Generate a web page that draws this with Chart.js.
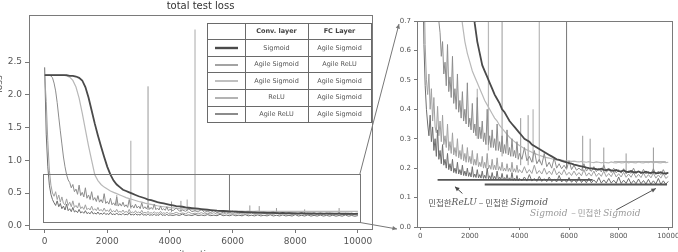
<!DOCTYPE html>
<html><head><meta charset="utf-8">
<script src="https://cdn.jsdelivr.net/npm/chart.js@4.4.1/dist/chart.umd.min.js"></script>
<style>
html,body{margin:0;padding:0;background:#fff;width:678px;height:252px;overflow:hidden;}
#c1{position:absolute;left:0;top:0;}
#c2{position:absolute;left:355px;top:0;}
</style></head><body>
<canvas id="c1" width="380" height="252" style="width:380px;height:252px"></canvas>
<canvas id="c2" width="323" height="252" style="width:323px;height:252px"></canvas>
<script>
// ---------------- DATA ----------------
// coarse iterations (smooth curves)
const iterations = [
  0,100,200,300,400,500,600,700,800,900,
  1000,1100,1200,1300,1400,1500,1600,1700,1800,1900,
  2000,2100,2200,2300,2400,2500,2600,2700,2800,2900,
  3000,3100,3200,3300,3400,3500,3600,3700,3800,3900,
  4000,4100,4200,4300,4400,4500,4600,4700,4800,4900,
  5000,5100,5200,5300,5400,5500,5600,5700,5800,5900,
  6000,6100,6200,6300,6400,6500,6600,6700,6800,6900,
  7000,7100,7200,7300,7400,7500,7600,7700,7800,7900,
  8000,8100,8200,8300,8400,8500,8600,8700,8800,8900,
  9000,9100,9200,9300,9400,9500,9600,9700,9800,9900,
  10000];

// fine iterations (noisy curves)
const iterFine = [
  0,50,100,150,200,250,300,350,400,450,
  500,550,600,650,700,750,800,850,900,950,
  1000,1050,1100,1150,1200,1250,1300,1350,1400,1450,
  1500,1550,1600,1650,1700,1750,1800,1850,1900,1950,
  2000,2050,2100,2150,2200,2250,2300,2350,2400,2450,
  2500,2550,2600,2650,2700,2750,2800,2850,2900,2950,
  3000,3050,3100,3150,3200,3250,3300,3350,3400,3450,
  3500,3550,3600,3650,3700,3750,3800,3850,3900,3950,
  4000,
  4100,4200,4300,4400,4500,4600,4700,4800,4900,5000,
  5100,5200,5300,5400,5500,5600,5700,5800,5900,6000,
  6100,6200,6300,6400,6500,6600,6700,6800,6900,7000,
  7100,7200,7300,7400,7500,7600,7700,7800,7900,8000,
  8100,8200,8300,8400,8500,8600,8700,8800,8900,9000,
  9100,9200,9300,9400,9500,9600,9700,9800,9900,10000];

// Conv: Sigmoid / FC: Agile Sigmoid   (on iterations)
const lossSigmoidAgileSigmoid = [
  2.30,2.30,2.30,2.30,2.30,2.30,2.30,2.30,2.29,2.29,
  2.28,2.26,2.22,2.12,1.96,1.76,1.56,1.38,1.21,1.05,
  0.90,0.78,0.69,0.63,0.59,0.55,0.53,0.51,0.49,0.47,
  0.45,0.435,0.42,0.40,0.39,0.375,0.36,0.35,0.34,0.33,
  0.32,0.31,0.30,0.295,0.29,0.28,0.275,0.27,0.265,0.26,
  0.255,0.25,0.245,0.24,0.235,0.23,0.228,0.225,0.222,0.22,
  0.217,0.215,0.212,0.21,0.208,0.206,0.204,0.202,0.20,0.199,
  0.198,0.197,0.195,0.198,0.194,0.193,0.196,0.192,0.191,0.194,
  0.19,0.189,0.192,0.188,0.187,0.19,0.186,0.186,0.189,0.185,
  0.185,0.188,0.184,0.184,0.186,0.183,0.183,0.186,0.182,0.182,
  0.184];

// Conv: Agile Sigmoid / FC: Agile Sigmoid   (on iterations)
const lossAgileSigmoidAgileSigmoid = [
  2.30,2.30,2.30,2.30,2.30,2.30,2.30,2.29,2.27,2.22,
  2.12,1.95,1.72,1.47,1.22,1.00,0.78,0.69,0.63,0.59,
  0.56,0.53,0.51,0.49,0.47,0.45,0.43,0.415,0.40,0.385,
  0.37,0.36,0.345,0.335,0.325,0.315,0.305,0.297,0.29,0.283,
  0.277,0.272,0.267,0.262,0.258,0.254,0.25,0.247,0.244,0.241,
  0.238,0.236,0.234,0.232,0.23,0.229,0.228,0.227,0.226,0.225,
  0.224,0.223,0.224,0.222,0.221,0.223,0.221,0.22,0.222,0.22,
  0.219,0.221,0.22,0.218,0.22,0.219,0.218,0.221,0.219,0.218,
  0.22,0.218,0.219,0.221,0.218,0.22,0.219,0.218,0.221,0.219,
  0.218,0.22,0.219,0.221,0.218,0.22,0.219,0.218,0.22,0.219,
  0.22];

// Conv: Agile Sigmoid / FC: Agile ReLU   (on iterFine)
const lossAgileSigmoidAgileReLU = [
  2.30,2.30,2.30,2.30,2.29,2.26,2.18,2.06,1.88,1.66,
  1.45,1.25,1.05,0.90,0.78,0.70,0.66,0.58,0.63,0.52,
  0.56,0.48,0.62,0.46,0.51,0.44,0.58,0.42,0.47,0.40,
  0.52,0.39,0.43,0.37,0.46,0.36,0.40,0.35,0.49,0.34,
  0.37,0.33,0.42,0.32,0.35,0.31,0.44,0.30,0.34,0.30,
  0.36,0.29,0.32,0.28,0.40,0.28,0.31,0.27,0.33,0.27,
  0.30,0.26,0.35,0.26,0.29,0.255,0.31,0.25,0.28,0.25,
  0.33,0.245,0.27,0.24,0.30,0.24,0.26,0.235,0.29,0.23,
  0.25,
  0.23,0.27,0.225,0.24,0.22,0.26,0.215,0.23,0.21,0.25,
  0.205,0.22,0.20,0.235,0.20,0.215,0.198,0.21,0.196,0.225,
  0.195,0.21,0.193,0.20,0.192,0.215,0.19,0.20,0.189,0.205,
  0.188,0.20,0.187,0.21,0.186,0.195,0.185,0.20,0.184,0.195,
  0.183,0.198,0.182,0.19,0.182,0.20,0.181,0.19,0.18,0.196,
  0.18,0.19,0.179,0.198,0.178,0.19,0.178,0.195,0.177,0.185];

// Conv: ReLU / FC: Agile Sigmoid   (on iterFine)
const lossReLUAgileSigmoid = [
  2.30,1.90,1.30,0.85,0.62,0.50,0.45,0.52,0.40,0.47,
  0.36,0.44,0.34,0.32,0.41,0.31,0.36,0.29,0.38,0.28,
  0.31,0.27,0.35,0.26,0.29,0.25,0.32,0.245,0.27,0.24,
  0.30,0.235,0.26,0.23,0.28,0.225,0.25,0.22,0.27,0.22,
  0.24,0.215,0.26,0.21,0.23,0.21,0.25,0.205,0.22,0.205,
  0.24,0.20,0.22,0.20,0.25,0.198,0.21,0.196,0.23,0.195,
  0.21,0.194,0.235,0.193,0.205,0.192,0.22,0.19,0.20,0.19,
  0.215,0.189,0.20,0.188,0.22,0.187,0.198,0.186,0.21,0.185,
  0.195,
  0.184,0.205,0.183,0.195,0.182,0.21,0.181,0.192,0.18,0.20,
  0.179,0.19,0.178,0.20,0.177,0.188,0.177,0.195,0.176,0.186,
  0.175,0.19,0.175,0.185,0.174,0.195,0.173,0.184,0.173,0.19,
  0.172,0.183,0.172,0.19,0.171,0.182,0.171,0.188,0.17,0.181,
  0.17,0.186,0.169,0.18,0.169,0.185,0.168,0.179,0.168,0.184,
  0.167,0.178,0.167,0.183,0.166,0.177,0.166,0.182,0.165,0.172];

// Conv: Agile ReLU / FC: Agile Sigmoid   (on iterFine)
const lossAgileReLUAgileSigmoid = [
  2.42,1.40,0.90,0.62,0.48,0.40,0.35,0.31,0.38,0.29,
  0.34,0.26,0.30,0.24,0.33,0.23,0.26,0.215,0.28,0.21,
  0.23,0.20,0.25,0.195,0.215,0.19,0.23,0.185,0.20,0.182,
  0.22,0.18,0.195,0.177,0.21,0.175,0.19,0.173,0.20,0.172,
  0.185,0.17,0.205,0.169,0.18,0.168,0.195,0.167,0.178,0.166,
  0.19,0.165,0.176,0.165,0.20,0.164,0.174,0.163,0.185,0.163,
  0.172,0.162,0.19,0.161,0.17,0.161,0.182,0.16,0.168,0.16,
  0.178,0.159,0.167,0.159,0.185,0.158,0.166,0.158,0.175,0.157,
  0.165,
  0.157,0.17,0.156,0.178,0.156,0.165,0.155,0.172,0.155,0.164,
  0.154,0.17,0.154,0.162,0.153,0.175,0.153,0.163,0.152,0.168,
  0.152,0.162,0.151,0.17,0.151,0.161,0.15,0.166,0.15,0.16,
  0.15,0.168,0.149,0.16,0.149,0.165,0.149,0.159,0.148,0.17,
  0.148,0.159,0.148,0.165,0.147,0.158,0.147,0.163,0.147,0.158,
  0.146,0.162,0.146,0.157,0.146,0.165,0.145,0.157,0.145,0.155];

// single-iteration spikes (iteration, base, peak)
const spikeLightIter = [2300, 2750, 4550, 4800];
const spikeLightBase = [0.30, 0.26, 0.22, 0.22];
const spikeLightPeak = [0.47, 1.30, 0.40, 3.00];
const spikeMidIter = [3300, 4050, 4350, 6550, 6850, 7400, 8300, 9400];
const spikeMidBase = [0.24, 0.21, 0.21, 0.19, 0.19, 0.19, 0.18, 0.18];
const spikeMidPeak = [2.13, 0.37, 0.38, 0.31, 0.30, 0.27, 0.25, 0.27];
const spikeDarkIter = [5900];
const spikeDarkBase = [0.20];
const spikeDarkPeak = [0.78];

// horizontal reference levels in the zoomed panel
const refLevel = [0.160, 0.144, 0.222];
const refStart = [700, 2600, 7800];
const refEnd   = [6950, 9950, 9900];

// legend table
const tableHeader = ['Conv. layer', 'FC Layer'];
const convLayer = ['Sigmoid', 'Agile Sigmoid', 'Agile Sigmoid', 'ReLU', 'Agile ReLU'];
const fcLayer   = ['Agile Sigmoid', 'Agile ReLU', 'Agile Sigmoid', 'Agile Sigmoid', 'Agile Sigmoid'];

// ticks
const xTickValues = [0, 2000, 4000, 6000, 8000, 10000];
const yTickMain = [0.0, 0.5, 1.0, 1.5, 2.0, 2.5];
const yTickZoom = [0.0, 0.1, 0.2, 0.3, 0.4, 0.5, 0.6, 0.7];

// ---------------- STYLE ----------------
// order follows the legend table rows
const seriesList = [
  {x:iterations, y:lossSigmoidAgileSigmoid,      color:'#4a4a4a', width:1.8},
  {x:iterFine,   y:lossAgileSigmoidAgileReLU,    color:'#8c8c8c', width:1},
  {x:iterations, y:lossAgileSigmoidAgileSigmoid, color:'#b8b8b8', width:1.2},
  {x:iterFine,   y:lossReLUAgileSigmoid,         color:'#a0a0a0', width:1},
  {x:iterFine,   y:lossAgileReLUAgileSigmoid,    color:'#6e6e6e', width:1}
];

function toPoints(xs, vals){ return xs.map((x,i)=>({x:x, y:vals[i]})); }
function spikePoints(xs, base, peak){
  const d=[]; xs.forEach((x,i)=>{ d.push({x:x,y:base[i]},{x:x,y:peak[i]},{x:x+1,y:null}); }); return d;
}
function buildDatasets(withRefs){
  const ds = seriesList.map(s=>({data:toPoints(s.x, s.y), borderColor:s.color, borderWidth:s.width}));
  ds.push({data:spikePoints(spikeDarkIter,spikeDarkBase,spikeDarkPeak), borderColor:'#777', borderWidth:1});
  ds.push({data:spikePoints(spikeMidIter,spikeMidBase,spikeMidPeak), borderColor:'#999', borderWidth:1});
  ds.push({data:spikePoints(spikeLightIter,spikeLightBase,spikeLightPeak), borderColor:'#b8b8b8', borderWidth:1.2});
  if(withRefs){
    const rc=['#555','#555','#aaa'], rw=[1.6,2,1];
    refLevel.forEach((lv,i)=>{
      ds.unshift({data:[{x:refStart[i],y:lv},{x:refEnd[i],y:lv}], borderColor:rc[i], borderWidth:rw[i]});
    });
  }
  return ds.map(d=>Object.assign({pointRadius:0, tension:0, fill:false, spanGaps:false}, d));
}

const FONT = 'DejaVu Sans';

const framePlugin = {
  id:'frame',
  afterDraw(chart){
    const a=chart.chartArea, c=chart.ctx;
    c.save(); c.strokeStyle='#7a7a7a'; c.lineWidth=1;
    c.strokeRect(Math.round(a.left)+0.5, Math.round(a.top)+0.5, Math.round(a.right-a.left), Math.round(a.bottom-a.top));
    c.restore();
  }
};

// ---------------- LEFT CHART ----------------
const insetPlugin = {
  id:'inset',
  afterDraw(chart){
    const c=chart.ctx, sx=chart.scales.x, sy=chart.scales.y;
    const x0=sx.getPixelForValue(-60), x1=sx.getPixelForValue(10060);
    const y0=sy.getPixelForValue(0.785), y1=sy.getPixelForValue(0.05);
    c.save(); c.strokeStyle='#777'; c.lineWidth=1;
    c.strokeRect(Math.round(x0)+0.5, Math.round(y0)+0.5, Math.round(x1-x0), Math.round(y1-y0));
    // legend table
    const L=207, cols=[207,245,308,371], top=22.5, rh=16.6;
    const rows = convLayer.length+1;
    c.fillStyle='#fff'; c.fillRect(L, top, cols[3]-L, rh*rows);
    c.strokeStyle='#6a6a6a'; c.lineWidth=1;
    c.beginPath();
    for(let r=0;r<=rows;r++){ const y=Math.round(top+r*rh)+0.5; c.moveTo(L,y); c.lineTo(cols[3],y); }
    cols.forEach(x=>{ c.moveTo(x+0.5, Math.round(top)); c.lineTo(x+0.5, Math.round(top+rows*rh)+1); });
    c.stroke();
    c.textAlign='center'; c.textBaseline='middle';
    c.fillStyle='#444'; c.font='bold 6.5px "'+FONT+'"';
    c.fillText(tableHeader[0], (cols[1]+cols[2])/2, top+rh/2+0.5);
    c.fillText(tableHeader[1], (cols[2]+cols[3])/2, top+rh/2+0.5);
    c.font='6.5px "'+FONT+'"'; c.fillStyle='#555';
    convLayer.forEach((t,i)=>{
      const yc = top+(i+1)*rh+rh/2+0.5;
      c.fillText(t, (cols[1]+cols[2])/2, yc);
      c.fillText(fcLayer[i], (cols[2]+cols[3])/2, yc);
      c.strokeStyle=seriesList[i].color; c.lineWidth=seriesList[i].width+0.6;
      c.beginPath(); c.moveTo(215, Math.round(yc)); c.lineTo(238, Math.round(yc)); c.stroke();
    });
    // axis labels (cut by the picture edge)
    c.fillStyle='#555'; c.font='9px "'+FONT+'"';
    c.fillText('iterations', (chart.chartArea.left+chart.chartArea.right)/2, 255);
    c.translate(0, 84); c.rotate(-Math.PI/2); c.fillText('loss', 0, 0);
    c.restore();
  }
};

const leftChart = new Chart(document.getElementById('c1'), {
  type:'line',
  data:{datasets: buildDatasets(false)},
  options:{
    responsive:false, animation:false, devicePixelRatio:1,
    layout:{padding:{left:0,right:8,top:0,bottom:0}},
    plugins:{legend:{display:false}, tooltip:{enabled:false},
      title:{display:true, text:'total test loss', fullSize:false, color:'#333',
        font:{family:FONT, size:10, weight:'normal'}, padding:{top:0,bottom:3}}},
    scales:{
      x:{type:'linear', min:-500, max:10450,
        afterBuildTicks:s=>{ s.ticks = xTickValues.map(v=>({value:v})); },
        afterFit:s=>{ s.height=23; s.paddingLeft=0; s.paddingRight=0; },
        grid:{drawOnChartArea:false, drawTicks:true, tickLength:4, color:'#777'},
        border:{color:'#7a7a7a'},
        ticks:{font:{family:FONT,size:9}, color:'#555', padding:3, maxRotation:0, autoSkip:false, callback:v=>String(v)}},
      y:{type:'linear', min:-0.05, max:3.22,
        afterBuildTicks:s=>{ s.ticks = yTickMain.map(v=>({value:v})); },
        afterFit:s=>{ s.width=29; s.paddingTop=0; s.paddingBottom=0; },
        grid:{drawOnChartArea:false, drawTicks:true, tickLength:4, color:'#777'},
        border:{color:'#7a7a7a'},
        ticks:{font:{family:FONT,size:9}, color:'#555', padding:3, autoSkip:false, callback:v=>v.toFixed(1)}}
    }
  },
  plugins:[framePlugin, insetPlugin]
});

// ---------------- RIGHT CHART ----------------
const OFFSET = 355;
function drawArrow(c, x0,y0,x1,y1, color, head){
  c.strokeStyle=color; c.fillStyle=color; c.lineWidth=1;
  c.beginPath(); c.moveTo(x0,y0); c.lineTo(x1,y1); c.stroke();
  const ang=Math.atan2(y1-y0,x1-x0);
  c.beginPath(); c.moveTo(x1,y1);
  c.lineTo(x1-head*Math.cos(ang-0.45), y1-head*Math.sin(ang-0.45));
  c.lineTo(x1-head*Math.cos(ang+0.45), y1-head*Math.sin(ang+0.45));
  c.closePath(); c.fill();
}
function drawRich(c, x, y, parts, color){
  c.fillStyle=color; c.textAlign='left'; c.textBaseline='middle';
  parts.forEach(p=>{ c.font=p[1]; c.fillText(p[0], x, y); x += c.measureText(p[0]).width; });
}
const annotPlugin = {
  id:'annot',
  afterDraw(chart){
    const c=chart.ctx, sx=chart.scales.x, sy=chart.scales.y, a=chart.chartArea;
    c.save();
    const KR='8.5px "Noto Sans CJK KR"', IT='italic 9px "DejaVu Serif"';
    drawRich(c, sx.getPixelForValue(320), sy.getPixelForValue(0.084),
      [['민첩한',KR],['ReLU',IT],[' – ',KR],['민첩한 ',KR],['Sigmoid',IT]], '#555');
    drawRich(c, sx.getPixelForValue(4430), sy.getPixelForValue(0.047),
      [['Sigmoid',IT],['  – ',KR],['민첩한 ',KR],['Sigmoid',IT]], '#9a9a9a');
    drawArrow(c, sx.getPixelForValue(1700), sy.getPixelForValue(0.114), sx.getPixelForValue(1400), sy.getPixelForValue(0.137), '#444', 5);
    drawArrow(c, sx.getPixelForValue(7900), sy.getPixelForValue(0.058), sx.getPixelForValue(9500), sy.getPixelForValue(0.131), '#555', 5);
    // connectors from the zoom rectangle of the left panel
    const lx=leftChart.scales.x, ly=leftChart.scales.y;
    const rx = lx.getPixelForValue(10060) - OFFSET;
    drawArrow(c, rx, ly.getPixelForValue(0.785), a.left-18, a.top+3, '#777', 5);
    drawArrow(c, rx, ly.getPixelForValue(0.05), a.left-20, a.bottom+2, '#777', 5);
    c.restore();
  }
};

new Chart(document.getElementById('c2'), {
  type:'line',
  data:{datasets: buildDatasets(true)},
  options:{
    responsive:false, animation:false, devicePixelRatio:1,
    layout:{padding:{left:0,right:6,top:21,bottom:0}},
    plugins:{legend:{display:false}, tooltip:{enabled:false}, title:{display:false}},
    scales:{
      x:{type:'linear', min:-130, max:10150,
        afterBuildTicks:s=>{ s.ticks = xTickValues.map(v=>({value:v})); },
        afterFit:s=>{ s.height=25; s.paddingLeft=0; s.paddingRight=0; },
        grid:{drawOnChartArea:false, drawTicks:true, tickLength:3, color:'#777'},
        border:{color:'#7a7a7a'},
        ticks:{font:{family:FONT,size:7}, color:'#555', padding:2, maxRotation:0, autoSkip:false, callback:v=>String(v)}},
      y:{type:'linear', min:0, max:0.7,
        afterBuildTicks:s=>{ s.ticks = yTickZoom.map(v=>({value:v})); },
        afterFit:s=>{ s.width=62; s.paddingTop=0; s.paddingBottom=0; },
        grid:{drawOnChartArea:false, drawTicks:true, tickLength:3, color:'#777'},
        border:{color:'#7a7a7a'},
        ticks:{font:{family:FONT,size:7}, color:'#555', padding:3, autoSkip:false, callback:v=>v.toFixed(1)}}
    }
  },
  plugins:[framePlugin, annotPlugin]
});
</script>
</body></html>
